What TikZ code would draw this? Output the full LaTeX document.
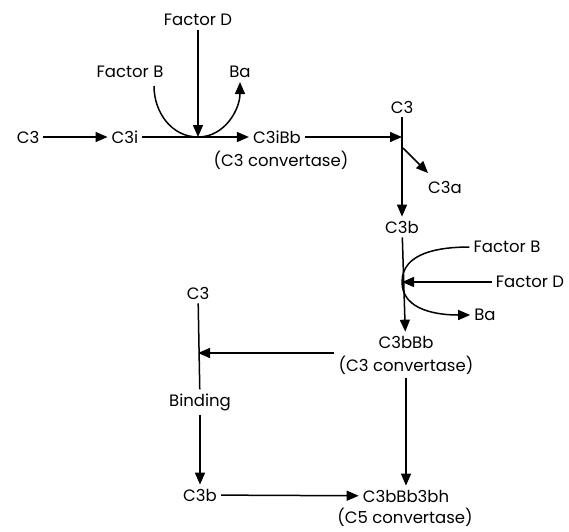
\documentclass[tikz,border=0pt]{standalone}
\usepackage{fontspec}
\setmainfont{Poppins}
\usepackage{tikz}
\usetikzlibrary{arrows.meta, positioning, calc}
\tikzstyle{label} = [inner sep=4pt, font=\fontsize{16.5}{20}\selectfont]
\tikzstyle{twoline} = [inner sep=4pt, align=center, font=\fontsize{16.5}{23}\selectfont]
\tikzstyle{arrow} = [-{Triangle[length=12pt, width=10pt]}, line width=1.5pt]
\tikzstyle{plain} = [line width=1.5pt]

\begin{document}
\begin{tikzpicture}[x=1pt, y=-1pt]
    \useasboundingbox (0,0) rectangle (569,531);

    % First pathway (C3i)
    \node[label] (c3start) at (28,137) {C3};
    \node[label] (c3i) at (125,137) {C3i};
    \node[label] (c3ibb) at (277,137) {C3iBb};
    \node[label] (conv1) at (281,160) {(C3 convertase)};
    \node[label] (factord1) at (198,20) {Factor D};
    \node[label] (factorb1) at (130,72) {Factor B};
    \node[label] (ba1) at (240,72) {Ba};
    \coordinate (j1) at (198,137);
    \coordinate (b1start) at (154,86);

    % Cleavage of C3
    \node[label] (c3top) at (402,107) {C3};
    \node[label] (c3a) at (445,187) {C3a};
    \node[label] (c3b) at (402,227) {C3b};
    \coordinate (j2) at (402,137);
    \coordinate (j3) at (403,148);
    \coordinate (c3atip) at (428,173);

    % Amplification loop
    \node[label] (factorb2) at (507,247) {Factor B};
    \node[label] (factord2) at (530,282) {Factor D};
    \node[label] (ba2) at (485,315) {Ba};
    \coordinate (j4) at (402,282);
    \node[twoline] (c3bbb) at (406,355) {C3bBb\\(C3 convertase)};

    % Binding
    \node[label] (c3left) at (198,293) {C3};
    \node[label] (binding) at (200,402) {Binding};
    \node[label] (c3b2) at (200,495) {C3b};
    \coordinate (j5) at (198,353);
    \node[label] (c3bbb3bh) at (406,496) {C3bBb3bh};
    \node[label] (conv3) at (405,517) {(C5 convertase)};

    % Arrows
    \draw[arrow] (c3start) -- (c3i);
    \draw[arrow] (c3i) -- (c3ibb);
    \draw[arrow] (factord1) -- (j1);
    \draw[plain] (b1start) to[out=-90, in=180] (j1);
    \draw[arrow] (j1) to[out=0, in=-90] (ba1.south);
    \draw[arrow] (c3ibb) -- (j2);
    \draw[arrow] (c3top) -- (c3b);
    \draw[arrow] (j3) -- (c3atip);
    \draw[arrow] (c3b) -- (c3bbb);
    \draw[arrow] (factorb2.west) to[out=180, in=90] (j4) to[out=-90, in=180] (ba2.west);
    \draw[arrow] (factord2) -- (j4);
    \draw[arrow] (c3bbb.west |- j5) -- (j5);
    \draw[plain] (c3left) -- (binding);
    \draw[arrow] (binding) -- (c3b2);
    \draw[arrow] (c3b2) -- (c3bbb3bh);
    \draw[arrow] (c3bbb) -- (c3bbb3bh);
\end{tikzpicture}
\end{document}
